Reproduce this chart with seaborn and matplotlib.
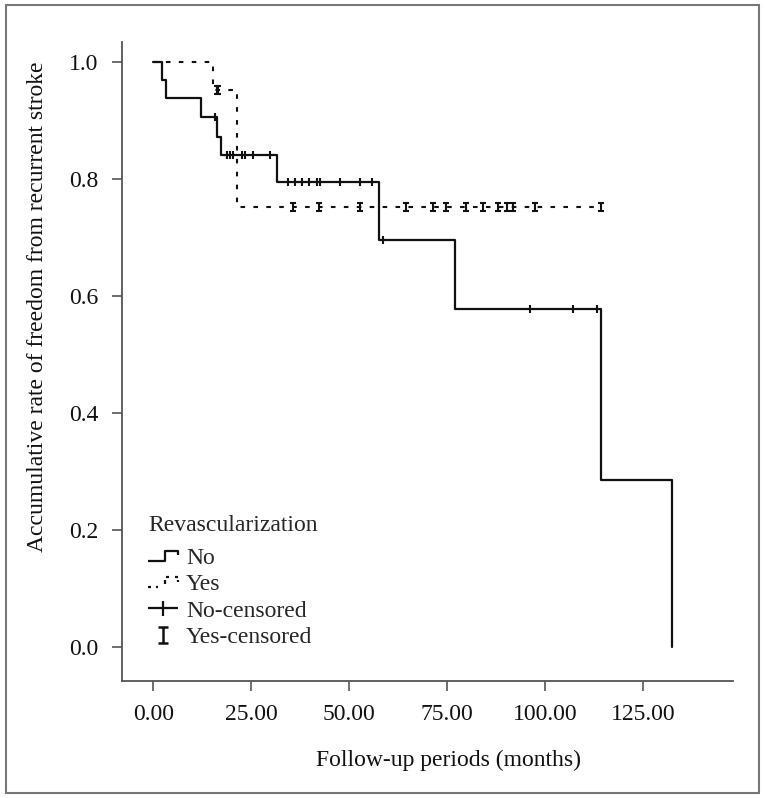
import numpy as np
import pandas as pd
import matplotlib
matplotlib.use("Agg")
import matplotlib.pyplot as plt
from matplotlib.path import Path
from matplotlib.lines import Line2D
from matplotlib.patches import Rectangle
import seaborn as sns

# Kaplan-Meier steps (months, survival after event)
no_time = [0, 2.3, 3.2, 12.3, 16.3, 17.4, 31.5, 57.7, 77.0, 114.2, 132.3]
no_surv = [1.0, 0.970, 0.938, 0.906, 0.873, 0.841, 0.795, 0.696, 0.578, 0.286, 0.0]
no_censored = [15.7, 18.7, 19.6, 20.4, 22.6, 23.4, 25.5, 29.8, 34.4, 36.1, 37.9,
               39.8, 41.9, 42.5, 47.6, 52.7, 55.7, 58.7, 96.1, 107.1, 113.2]

yes_time = [0, 15.2, 21.4, 114.2]
yes_surv = [1.0, 0.953, 0.752, 0.752]
yes_censored = [16.2, 16.6, 35.6, 42.3, 52.7, 64.6, 71.4, 74.8, 79.9, 84.2,
                88.0, 90.2, 91.8, 97.4, 114.2]

x_ticks = [0, 25, 50, 75, 100, 125]
y_ticks = [0.0, 0.2, 0.4, 0.6, 0.8, 1.0]
legend_labels = ["No", "Yes", "No-censored", "Yes-censored"]


def surv_at(times, surv, t):
    idx = np.searchsorted(times, t, side="right") - 1
    return np.asarray(surv)[idx]


def seg_path(segments):
    verts, codes = [], []
    for seg in segments:
        for i, p in enumerate(seg):
            verts.append(p)
            codes.append(Path.MOVETO if i == 0 else Path.LINETO)
    return Path(verts, codes)


ibeam = seg_path([[(-0.3, 0.45), (0.3, 0.45)], [(0, 0.45), (0, -0.45)],
                  [(-0.3, -0.45), (0.3, -0.45)]])
step_solid = seg_path([[(-1, -0.33), (0.1, -0.33), (0.1, 0.33), (0.95, 0.33), (0.95, 0.05)]])
step_dot = seg_path([[(-1, -0.33), (-0.8, -0.33)], [(-0.45, -0.33), (-0.3, -0.33)],
                     [(0.1, -0.1), (0.1, 0.1)], [(0.2, 0.33), (0.4, 0.33)],
                     [(0.8, 0.33), (0.95, 0.33)], [(0.95, 0.1), (0.95, -0.02)]])
cross = seg_path([[(-1, 0), (1, 0)], [(0, -0.5), (0, 0.5)]])

sns.set_style("ticks")
plt.rcParams["font.family"] = ["Liberation Serif", "DejaVu Serif"]

fig = plt.figure(figsize=(7.65, 7.98), dpi=100)
ax = fig.add_axes([0.159, 0.147, 0.799, 0.800])

df_no = pd.DataFrame({"time": no_time, "surv": no_surv})
df_yes = pd.DataFrame({"time": yes_time, "surv": yes_surv})

sns.lineplot(data=df_yes, x="time", y="surv", estimator=None, sort=False,
             drawstyle="steps-post", color="#111111", linewidth=1.5,
             linestyle=(0, (2.2, 4.0)), ax=ax)
sns.lineplot(data=df_no, x="time", y="surv", estimator=None, sort=False,
             drawstyle="steps-post", color="#111111", linewidth=1.6, ax=ax)

ax.plot(no_censored, surv_at(no_time, no_surv, no_censored), linestyle="none",
        marker="|", markersize=6, markeredgewidth=1.5, color="#111111")
ax.plot(yes_censored, surv_at(yes_time, yes_surv, yes_censored), linestyle="none",
        marker=ibeam, markersize=6, markeredgewidth=1.5,
        markerfacecolor="none", markeredgecolor="#111111")

ax.set_xlim(-8.06, 147.9)
ax.set_ylim(-0.057, 1.034)
ax.set_xticks(x_ticks)
ax.set_xticklabels([f"{v:.2f}" for v in x_ticks])
ax.set_yticks(y_ticks)
ax.set_yticklabels([f"{v:.1f}" for v in y_ticks])
ax.tick_params(axis="both", labelsize=17, length=7, width=1.2, color="#555555",
               pad=10, labelcolor="#111111")
for side in ["top", "right"]:
    ax.spines[side].set_visible(False)
for side in ["left", "bottom"]:
    ax.spines[side].set_color("#555555")
    ax.spines[side].set_linewidth(1.3)

ax.set_xlabel("Follow-up periods (months)", fontsize=17, color="#111111")
ax.set_ylabel("Accumulative rate of freedom from recurrent stroke", fontsize=17,
              color="#111111")
ax.xaxis.set_label_coords(0.534, -0.108)
ax.yaxis.set_label_coords(-0.12, 0.585)

handles = [
    Line2D([], [], linestyle="none", marker=step_solid, markersize=22,
           markeredgewidth=1.6, markerfacecolor="none", markeredgecolor="#111111"),
    Line2D([], [], linestyle="none", marker=step_dot, markersize=22,
           markeredgewidth=1.6, markerfacecolor="none", markeredgecolor="#111111"),
    Line2D([], [], linestyle="none", marker=cross, markersize=21.6,
           markeredgewidth=1.6, markerfacecolor="none", markeredgecolor="#111111"),
    Line2D([], [], linestyle="none", marker=ibeam, markersize=11.5,
           markeredgewidth=1.8, markerfacecolor="none", markeredgecolor="#111111"),
]
leg = ax.legend(handles, legend_labels, title="Revascularization", loc="upper left",
                bbox_to_anchor=(0.043, 0.26), frameon=False, fontsize=17,
                title_fontsize=17, handlelength=1.31, handletextpad=0.3,
                labelspacing=0.2, borderpad=0, borderaxespad=0,
                alignment="left")
# a bit more room between the title and the first entry
leg._legend_box.sep = 8.5

fig.patches.append(Rectangle((6 / 765, 5 / 798), 753 / 765, 788 / 798,
                             transform=fig.transFigure, fill=False,
                             edgecolor="#777777", linewidth=1.5))

fig.savefig("out.png", dpi=100)
